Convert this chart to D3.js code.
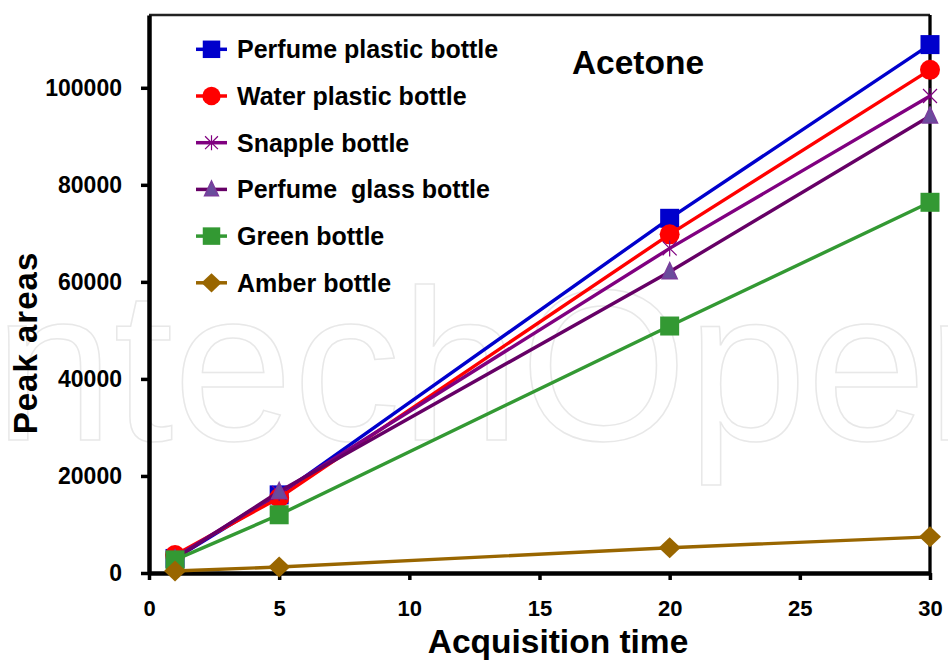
<!DOCTYPE html>
<html>
<head>
<meta charset="utf-8">
<script src="https://cdn.jsdelivr.net/npm/d3@7"></script>
<style>
  body { margin: 0; background: #fff; }
  svg { font-family: "Liberation Sans", Arial, sans-serif; font-weight: bold; }
</style>
</head>
<body>
<svg id="chart" width="948" height="661"></svg>
<script>
// acquisition times (x) and peak areas per bottle
const times = [1, 5, 20, 30];
const seriesNames = ["Perfume plastic bottle", "Water plastic bottle", "Snapple bottle",
    "Perfume  glass bottle", "Green bottle", "Amber bottle"];
const perfumePlastic = [3000, 16100, 73100, 108900];
const waterPlastic = [3700, 15500, 69800, 103700];
const snapple = [3200, 16500, 66900, 98300];
const perfumeGlass = [2900, 16800, 62100, 94200];
const greenBottle = [2700, 12000, 50900, 76400];
const amberBottle = [400, 1250, 5200, 7450];
const xTicks = [0, 5, 10, 15, 20, 25, 30];
const yTicks = [0, 20000, 40000, 60000, 80000, 100000];

const series = [
    { name: seriesNames[0], values: perfumePlastic, line: "#0000cc", fill: "#0000cc", marker: "square" },
    { name: seriesNames[1], values: waterPlastic, line: "#ff0000", fill: "#ff0000", marker: "circle" },
    { name: seriesNames[2], values: snapple, line: "#800080", fill: "#800080", marker: "star" },
    { name: seriesNames[3], values: perfumeGlass, line: "#660066", fill: "#6a4c9c", marker: "triangle" },
    { name: seriesNames[4], values: greenBottle, line: "#339933", fill: "#339933", marker: "square" },
    { name: seriesNames[5], values: amberBottle, line: "#996600", fill: "#996600", marker: "diamond" }
];

const svg = d3.select("#chart");
const margin = { left: 149, top: 15, right: 948 - 930, bottom: 661 - 573 };
const width = 948 - margin.left - margin.right;
const height = 661 - margin.top - margin.bottom;

// faint watermark in the background
svg.append("text")
    .attr("x", 520)
    .attr("y", 440)
    .attr("text-anchor", "middle")
    .style("font-weight", "normal")
    .style("font-size", "215px")
    .attr("fill", "none")
    .attr("stroke", "#e8e8e8")
    .attr("stroke-width", 1.5)
    .text("ntechOpen");

const g = svg.append("g").attr("transform", `translate(${margin.left},${margin.top})`);

const x = d3.scaleLinear().domain([0, 30]).range([0, width]);
const y = d3.scaleLinear().domain([0, 115000]).range([height, 0]);

// top and right frame lines
g.append("line").attr("x1", 0).attr("x2", width).attr("y1", 0).attr("y2", 0)
    .attr("stroke", "#222").attr("stroke-width", 2.5);
g.append("line").attr("x1", width).attr("x2", width).attr("y1", 0).attr("y2", height)
    .attr("stroke", "#000").attr("stroke-width", 3.3);

// axes
const xAxis = g.append("g")
    .attr("transform", `translate(0,${height})`)
    .call(d3.axisBottom(x).tickValues(xTicks).tickFormat(d3.format("d"))
        .tickSize(7).tickSizeOuter(0).tickPadding(20));
const yAxis = g.append("g")
    .call(d3.axisLeft(y).tickValues(yTicks).tickFormat(d3.format("d"))
        .tickSize(8).tickSizeOuter(0).tickPadding(19));

[xAxis, yAxis].forEach(a => {
    a.select(".domain").attr("stroke", "#000").attr("stroke-width", 4.5);
    a.selectAll(".tick line").attr("stroke", "#000").attr("stroke-width", 3.5);
    a.selectAll(".tick text")
        .attr("fill", "#000")
        .style("font-family", "Liberation Sans, Arial, sans-serif")
        .style("font-weight", "bold");
});
xAxis.selectAll(".tick text").style("font-size", "22px");
yAxis.selectAll(".tick text").style("font-size", "23px");

// markers
function drawMarker(sel, s, size) {
    const k = size || 1;
    if (s.marker === "square") {
        sel.append("rect").attr("x", -9.5 * k).attr("y", -9.5 * k)
            .attr("width", 19 * k).attr("height", 19 * k).attr("fill", s.fill);
    } else if (s.marker === "circle") {
        sel.append("circle").attr("r", 10 * k).attr("fill", s.fill);
    } else if (s.marker === "diamond") {
        sel.append("path")
            .attr("d", `M0,${-10.5 * k}L${11 * k},0L0,${10.5 * k}L${-11 * k},0Z`)
            .attr("fill", s.fill);
    } else if (s.marker === "triangle") {
        sel.append("path")
            .attr("d", `M0,${-9 * k}L${7.5 * k},${7 * k}L${-7.5 * k},${7 * k}Z`)
            .attr("fill", s.fill).attr("stroke", "#7a3c9c").attr("stroke-width", 1.5);
    } else if (s.marker === "star") {
        const r = 7 * k;
        sel.append("path")
            .attr("d", `M${-r},${-r}L${r},${r}M${-r},${r}L${r},${-r}M0,${-r - 1}L0,${r + 1}`)
            .attr("stroke", s.fill).attr("stroke-width", 1.2).attr("fill", "none");
    }
}

const line = d3.line().x((d, i) => x(times[i])).y(d => y(d));

series.forEach(s => {
    const sg = g.append("g");
    sg.append("path")
        .datum(s.values)
        .attr("d", line)
        .attr("fill", "none")
        .attr("stroke", s.line)
        .attr("stroke-width", 3.4);
    s.values.forEach((v, i) => {
        const m = sg.append("g").attr("transform", `translate(${x(times[i])},${y(v)})`);
        drawMarker(m, s);
    });
});

// legend
const legend = svg.append("g").attr("transform", "translate(196,49.3)");
series.forEach((s, i) => {
    const row = legend.append("g").attr("transform", `translate(0,${i * 46.7})`);
    row.append("line").attr("x1", 0).attr("x2", 31).attr("y1", 0).attr("y2", 0)
        .attr("stroke", s.line).attr("stroke-width", 3.5);
    const m = row.append("g").attr("transform", "translate(15.5,0)");
    drawMarker(m, s, 0.92);
    row.append("text")
        .attr("x", 41)
        .attr("y", 0)
        .attr("dy", "0.36em")
        .style("font-size", "25px")
        .attr("fill", "#000")
        .style("white-space", "pre")
        .text(s.name);
});

// title
svg.append("text")
    .attr("x", 638)
    .attr("y", 74)
    .attr("text-anchor", "middle")
    .style("font-size", "33.5px")
    .text("Acetone");

// axis titles
svg.append("text")
    .attr("x", 558)
    .attr("y", 653)
    .attr("text-anchor", "middle")
    .style("font-size", "33.5px")
    .text("Acquisition time");

svg.append("text")
    .attr("transform", "translate(37,343) rotate(-90)")
    .attr("text-anchor", "middle")
    .style("font-size", "33px")
    .style("letter-spacing", "1px")
    .text("Peak areas");
</script>
</body>
</html>
